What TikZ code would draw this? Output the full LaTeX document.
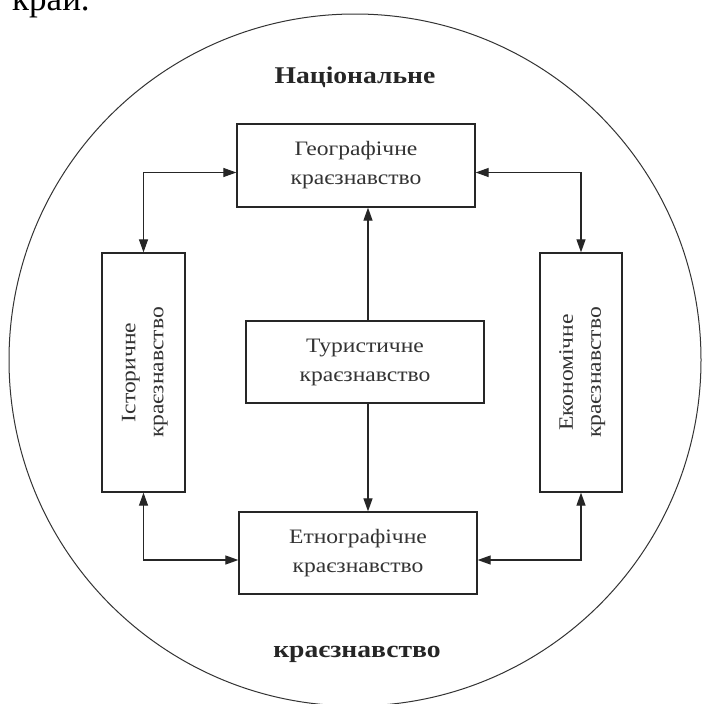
\documentclass[tikz,border=0pt]{standalone}
\usepackage{fontspec}
\setmainfont{Liberation Serif}
\newfontfamily\wideserif[FakeStretch=1.15]{Liberation Serif}
\usetikzlibrary{arrows.meta}
\begin{document}
\begin{tikzpicture}[x=1pt,y=-1pt,
  box/.style={draw=black!85,line width=1.3pt,inner sep=0pt,align=center,
    font=\wideserif\fontsize{20.5}{29}\selectfont,text=black!80},
  conn/.style={draw=black!85,line width=1.2pt,
    {Triangle[length=13pt,width=9pt]}-{Triangle[length=13pt,width=9pt]}},
  oneway/.style={draw=black!85,line width=1.2pt,-{Triangle[length=13pt,width=9pt]}},
  title/.style={font=\wideserif\fontsize{24}{28}\selectfont\bfseries,text=black!85}]
\useasboundingbox (0,0) rectangle (704,704);
\clip (0,0) rectangle (704,704);
\fill[white] (0,0) rectangle (704,704);
\node[anchor=base west,font=\fontsize{35}{38}\selectfont,inner sep=0pt] (kray) at (12,10) {край.};
\draw[black!80,line width=1pt] (355,360) circle[radius=346];
\node[title] (nat) at (355,77) {Національне};
\node[title] (kraez) at (357,654) {краєзнавство};
\node[box,minimum width=238pt,minimum height=83pt] (geo) at (356,165.5) {Географічне\\краєзнавство};
\node[box,minimum width=238pt,minimum height=82pt] (tur) at (365,362) {Туристичне\\краєзнавство};
\node[box,minimum width=238pt,minimum height=82pt] (eth) at (358,553) {Етнографічне\\краєзнавство};
\node[box,minimum width=83pt,minimum height=239pt] (hist) at (143.5,372.5)
  {\rotatebox{90}{\begin{tabular}{@{}c@{}}Історичне\\[-1pt]краєзнавство\end{tabular}}};
\node[box,minimum width=82pt,minimum height=239pt] (econ) at (581,372.5)
  {\rotatebox{90}{\begin{tabular}{@{}c@{}}Економічне\\[-1pt]краєзнавство\end{tabular}}};
\draw[conn] (hist.north) |- ([yshift=-7pt]geo.west);
\draw[conn] (econ.north) |- ([yshift=-7pt]geo.east);
\draw[conn] (hist.south) |- ([yshift=-7pt]eth.west);
\draw[conn] (econ.south) |- ([yshift=-7pt]eth.east);
\draw[oneway] ([xshift=3pt]tur.north) -- ([xshift=3pt]tur.north |- geo.south);
\draw[oneway] ([xshift=3pt]tur.south) -- ([xshift=3pt]tur.south |- eth.north);
\end{tikzpicture}
\end{document}
